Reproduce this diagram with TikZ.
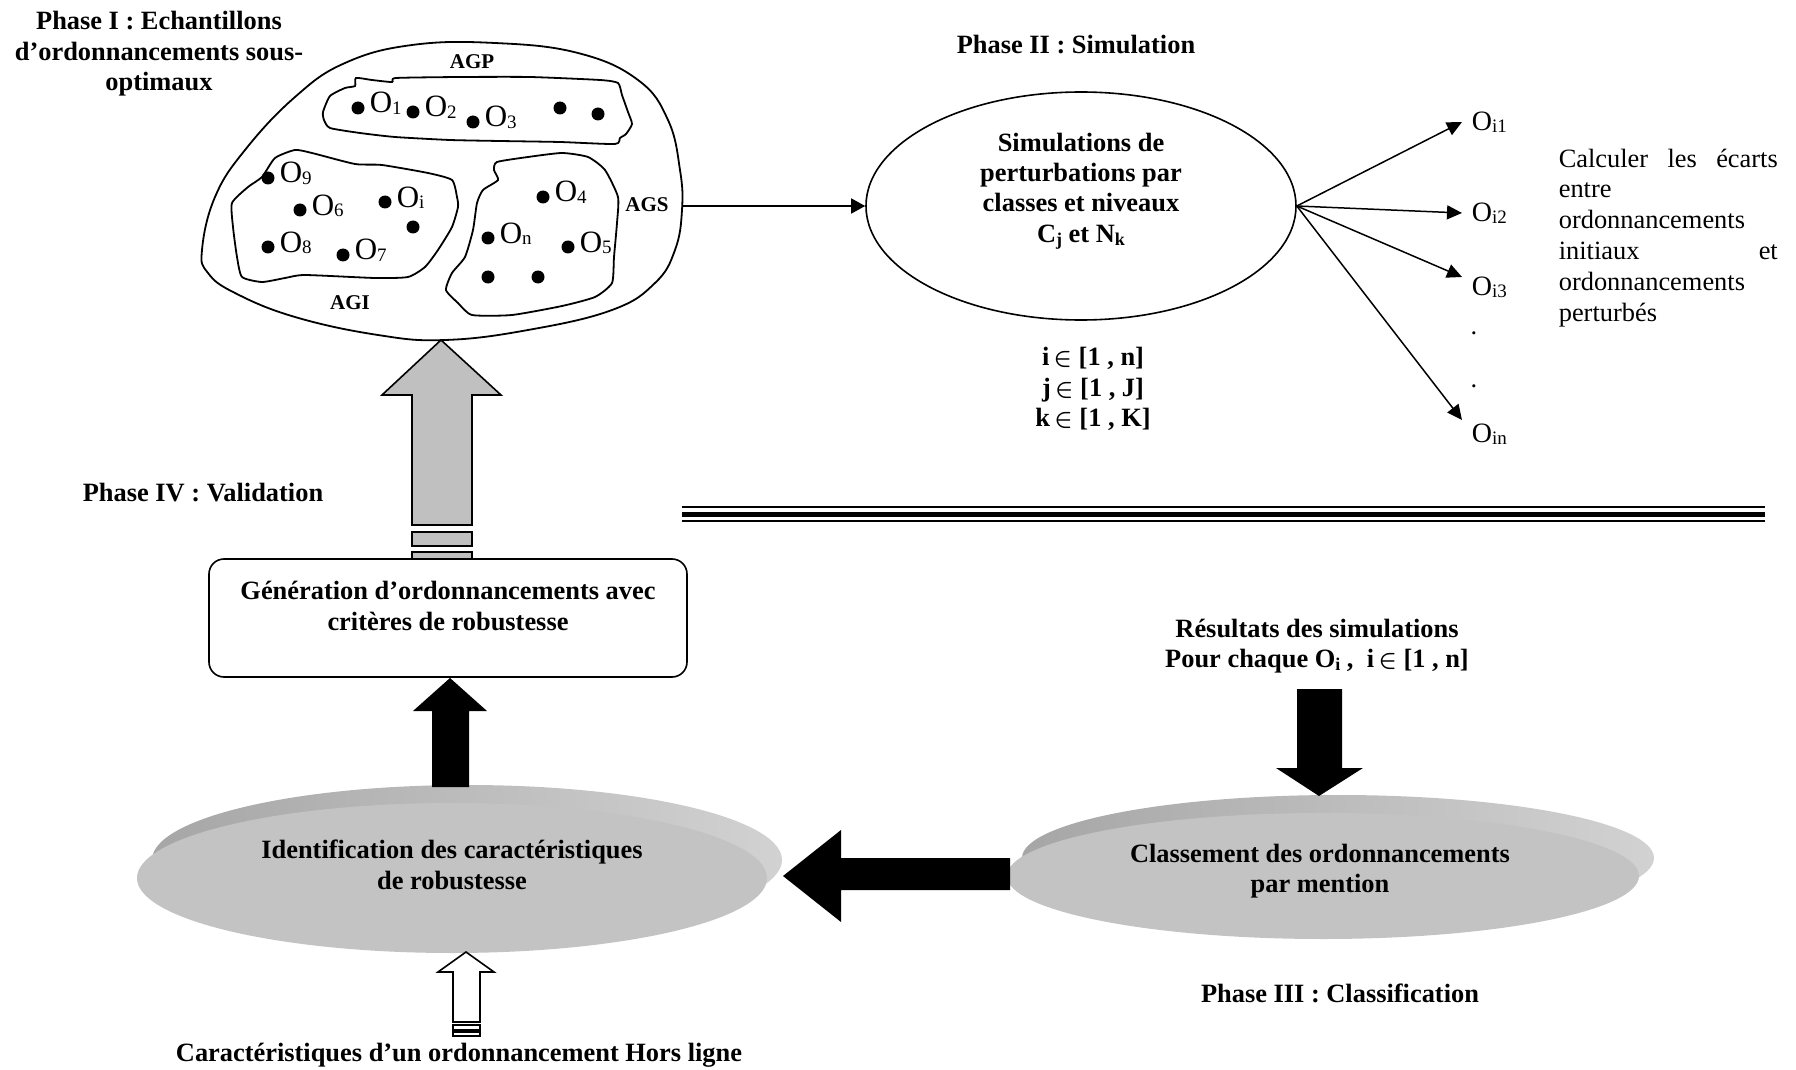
\documentclass[tikz,border=0pt]{standalone}
\usepackage{amsmath,amssymb,bm}
\usepackage{fontspec}
\setmainfont{Liberation Serif}
\usetikzlibrary{arrows.meta,shapes.geometric,calc}
\definecolor{lgray}{HTML}{C3C3C3}
\definecolor{agray}{HTML}{C0C0C0}
\definecolor{rimleft}{HTML}{A6A6A6}
\definecolor{rimmid}{HTML}{9C9C9C}
\definecolor{rimright}{HTML}{D2D2D2}
\newcommand\OSub[2]{O\raisebox{-0.9pt}{\fontsize{#2}{#2}\selectfont #1}}
\newcommand\bSub[1]{\raisebox{-1.6pt}{\fontsize{9}{9}\selectfont\bfseries #1}}
\newcommand\elt{\,$\bm{\in}$\ }
\begin{document}
\begin{tikzpicture}[x=0.5pt,y=-0.5pt,line width=0.8pt,
  bt/.style={font=\fontsize{13.2}{15.2}\selectfont\bfseries,align=center,inner sep=0pt},
  rt/.style={font=\fontsize{13.2}{15.4}\selectfont,inner sep=0pt},
  olab/.style={font=\fontsize{15.5}{16}\selectfont,anchor=base west,inner sep=0pt},
  rlab/.style={font=\fontsize{14}{14}\selectfont,anchor=west,inner sep=0pt},
  aglab/.style={font=\fontsize{10.5}{12}\selectfont\bfseries,inner sep=0pt},
  blobline/.style={draw,line width=0.9pt},
  fanarrow/.style={line width=0.75pt,-{Triangle[length=7.5pt,width=7pt]}},
  blockblack/.style={fill=black,draw=none},
  blockgray/.style={fill=agray,draw=black,line width=0.8pt},
  rimshade/.style={left color=rimleft,middle color=rimmid,right color=rimright},
  faceell/.style={ellipse,fill=lgray,inner sep=0pt,draw=none}]
\useasboundingbox (0,0) rectangle (1796,1070);

% ---------- Phase I ----------
\node[bt] (ph1) at (159,54) {Phase I : Echantillons\\d’ordonnancements sous-\\optimaux};

% outer blob (AGS)
\draw[blobline] plot[smooth cycle,tension=0.7] coordinates {
 (202,250) (215,197) (245,150) (295,97) (345,63) (412,45) (495,43) (578,53)
 (638,80) (668,120) (680,170) (682,210) (675,250) (655,283) (612,310)
 (528,330) (445,340) (378,335) (295,317) (235,293) (208,273)};
% AGP
\draw[blobline] plot[smooth cycle,tension=0.35] coordinates {
 (323,112) (330,96) (345,88) (355,86) (356,78) (372,80) (392,82) (396,78)
 (460,77) (530,77) (600,80) (618,83) (622,95) (628,112) (632,124) (626,134)
 (620,138) (615,144) (560,142) (500,141) (450,140) (395,137) (360,133) (330,128) (324,120)};
% AGI
\draw[blobline] plot[smooth cycle,tension=0.35] coordinates {
 (262,177) (275,158) (295,150) (312,153) (355,164) (382,165) (428,173) (452,180)
 (457,197) (458,207) (452,227) (438,250) (425,267) (408,277) (375,278) (305,275)
 (285,278) (262,282) (242,277) (237,257) (233,227) (232,203) (248,187)};
% third group
\draw[blobline] plot[smooth cycle,tension=0.35] coordinates {
 (497,162) (494,170) (498,180) (483,190) (477,203) (473,230) (465,257) (452,273)
 (446,290) (458,303) (472,315) (512,315) (562,306) (595,297) (612,283) (614,257)
 (617,223) (618,197) (605,170) (588,157) (562,153) (528,157)};

\node[aglab] (agp) at (472,62) {AGP};
\node[aglab] (agi) at (350,303) {AGI};
\node[aglab] (ags) at (647,205) {AGS};

% dots and labels
\foreach \dx/\dy/\nm/\lb in {358/108/o1/1, 413/112/o2/2, 473/122/o3/3,
   268/178/o9/9, 300/210/o6/6, 385/202/oi/i, 268/247/o8/8, 343/255/o7/7,
   543/197/o4/4, 488/238/on/n, 568/247/o5/5}{
  \fill (\dx,\dy) circle (3.25pt);
  \node[olab] (\nm) at (\dx+11,\dy+5) {\OSub{\lb}{9.5}};
}
\foreach \dx/\dy in {560/108, 598/114, 413/227, 488/277, 538/277}{
  \fill (\dx,\dy) circle (3.25pt);
}

% ---------- Phase II ----------
\node[bt] (ph2) at (1076,45) {Phase II : Simulation};
\node[ellipse,draw,minimum width=215pt,minimum height=114pt,inner sep=0pt] (sim) at (1081,206) {};
\node[bt] (simtxt) at (1081,191) {Simulations de\\perturbations par\\classes et niveaux\\C\bSub{j} et N\bSub{k}};
\coordinate (agsout) at (682,206);
\draw[line width=0.8pt,-{Triangle[length=7pt,width=7.5pt]}] (agsout) -- (sim.west);

\node[bt] (ranges) at (1093,389) {i\elt[1 , n]\\j\elt[1 , J]\\k\elt[1 , K]};

\coordinate (t1) at (1462,122);
\coordinate (t2) at (1462,213);
\coordinate (t3) at (1462,277);
\coordinate (t4) at (1462,420);
\foreach \t in {t1,t2,t3,t4}{\draw[fanarrow] (sim.east) -- (\t);}
\node[rlab] (oi1) at (1471,122) {\OSub{i1}{9.5}};
\node[rlab] (oi2) at (1471,213) {\OSub{i2}{9.5}};
\node[rlab] (oi3) at (1471,287) {\OSub{i3}{9.5}};
\node[rlab] (oin) at (1471,434) {\OSub{in}{9.5}};
\node[rt,anchor=base] (dot1) at (1474,335) {.};
\node[rt,anchor=base] (dot2) at (1474,387) {.};

\node[rt,anchor=north west,text width=109.5pt,align=justify] (calc) at (1558,148)
 {Calculer\hfill les\hfill écarts\\ entre\\ ordonnancements\\ initiaux\hfill et\\ ordonnancements\\ perturbés};

% separator
\draw[line width=0.75pt] (682,507) -- (1765,507);
\draw[line width=2.5pt] (682,514) -- (1765,514);
\draw[line width=0.75pt] (682,521) -- (1765,521);

% ---------- Phase IV ----------
\node[bt] (ph4) at (203,493) {Phase IV : Validation};
\node[draw,rounded corners=7.5pt,minimum width=239pt,minimum height=59pt,inner sep=0pt] (gen) at (448,618) {};
\node[bt] (gentxt) at (448,606) {Génération d’ordonnancements avec\\critères de robustesse};

% gray up arrow into the blob
\draw[blockgray] (441,340) -- (501,395) -- (472,395) -- (472,525) -- (412,525) -- (412,395) -- (382,395) -- cycle;
\draw[blockgray] (412,532) rectangle (472,546);
\draw[blockgray] (412,552) rectangle (472,559);

% ---------- gray 3D ellipses ----------
\shade[rimshade] (467,860) ellipse [x radius=157.5pt,y radius=37.5pt];
\node[faceell,minimum width=315pt,minimum height=75pt] (ident) at (452,878) {};
\node[bt] (identtxt) at (452,865) {Identification des caractéristiques\\de robustesse};

\shade[rimshade] (1338,858) ellipse [x radius=158pt,y radius=31.5pt];
\node[faceell,minimum width=316pt,minimum height=63pt] (class) at (1323,876) {};
\node[bt] (classtxt) at (1320,871) {Classement des ordonnancements\\par mention};

% black block arrows
\fill[blockblack] (450,678) -- (487,711) -- (469,711) -- (469,787) -- (432,787) -- (432,711) -- (413,711) -- cycle;
\fill[blockblack] (1319,796) -- (1363,768) -- (1342,768) -- (1342,689) -- (1297,689) -- (1297,768) -- (1276,768) -- cycle;
\fill[blockblack] (783,876) -- (841,830) -- (841,858) -- (1010,858) -- (1010,890) -- (841,890) -- (841,922) -- cycle;

% hollow arrow
\draw[fill=white] (466,952) -- (494,972) -- (480,972) -- (480,1022) -- (453,1022) -- (453,972) -- (438,972) -- cycle;
\draw (453,1025) rectangle (480,1030);
\draw (453,1032) rectangle (480,1036);

\node[bt] (res) at (1317,646) {Résultats des simulations\\Pour chaque O\bSub{i} ,\ \ i\elt[1 , n]};
\node[bt] (ph3) at (1340,993) {Phase III : Classification};
\node[bt] (car) at (459,1055) {Caractéristiques d’un ordonnancement Hors ligne};
\end{tikzpicture}
\end{document}
